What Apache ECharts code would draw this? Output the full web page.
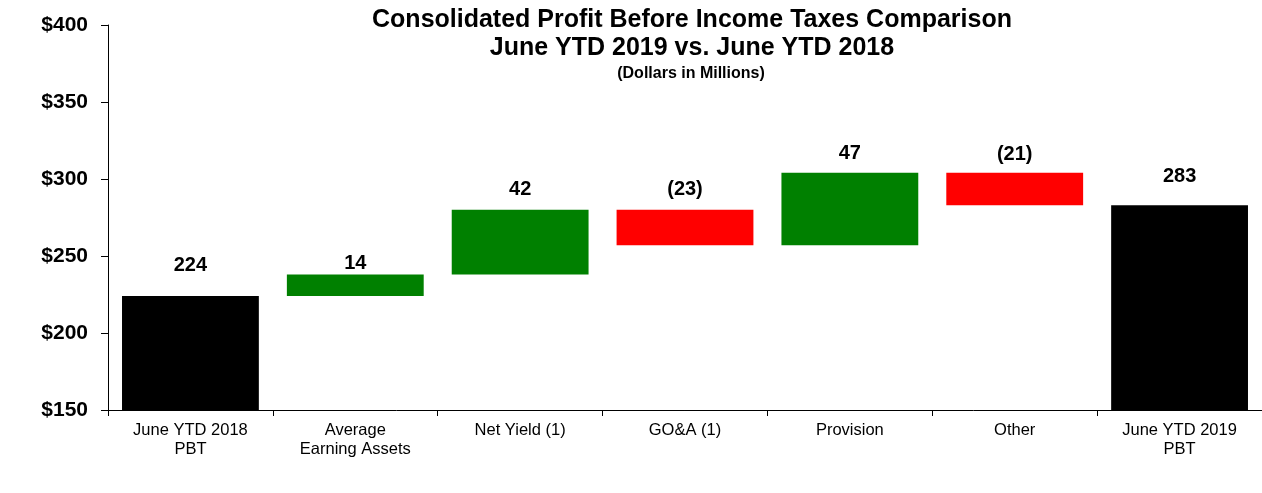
<!DOCTYPE html>
<html>
<head>
<meta charset="utf-8">
<script src="https://cdn.jsdelivr.net/npm/echarts@6/dist/echarts.min.js"></script>
<style>html,body{margin:0;padding:0;background:#fff}#c{width:1262px;height:493px}</style>
</head>
<body>
<div id="c"></div>
<script>
const categories = ["June YTD 2018\nPBT", "Average\nEarning Assets", "Net Yield (1)", "GO&A (1)", "Provision", "Other", "June YTD 2019\nPBT"];
const changes = [224, 14, 42, -23, 47, -21, 283];
const isTotal = [true, false, false, false, false, false, true];
const yTicks = { min: 150, max: 400, interval: 50 };

// styling (not data)
const labelGap = [21, 1, 10, 10, 9, 8, 19];
const colTotal = "#000000", colUp = "#008000", colDown = "#FF0000";

const base = [], vis = [];
let run = 0;
changes.forEach((v, i) => {
  if (isTotal[i]) {
    base.push(0);
    vis.push({ value: v, raw: v, itemStyle: { color: colTotal }, label: { distance: labelGap[i] } });
    run = v;
  } else {
    const next = run + v;
    base.push(Math.min(run, next));
    vis.push({ value: Math.abs(v), raw: v, itemStyle: { color: v >= 0 ? colUp : colDown }, label: { distance: labelGap[i] } });
    run = next;
  }
});

const chart = echarts.init(document.getElementById('c'));
chart.setOption({
  animation: false,
  textStyle: { fontFamily: "Liberation Sans, Arial, sans-serif" },
  title: [
    { text: "Consolidated Profit Before Income Taxes Comparison\nJune YTD 2019 vs. June YTD 2018", left: 687, top: 1, textAlign: 'center',
      textStyle: { fontFamily: "Liberation Sans, Arial", fontWeight: 'bold', fontSize: 25, lineHeight: 28, color: '#000' } },
    { text: "(Dollars in Millions)", left: 686, top: 60, textAlign: 'center',
      textStyle: { fontFamily: "Liberation Sans, Arial", fontWeight: 'bold', fontSize: 16, lineHeight: 18, color: '#000' } }
  ],
  grid: { left: 108, right: 0, top: 25, bottom: 83, containLabel: false },
  xAxis: {
    type: 'category', data: categories,
    axisLine: { lineStyle: { color: '#000', width: 1 } },
    axisTick: { show: true, length: 6, lineStyle: { color: '#000' } },
    axisLabel: { color: '#000', fontSize: 16.5, lineHeight: 19, margin: 11, interval: 0, fontFamily: "Liberation Sans, Arial" }
  },
  yAxis: {
    type: 'value', min: yTicks.min, max: yTicks.max, interval: yTicks.interval,
    axisLine: { show: true, lineStyle: { color: '#000', width: 1 } },
    axisTick: { show: true, length: 7, lineStyle: { color: '#000' } },
    splitLine: { show: false },
    axisLabel: { color: '#000', fontSize: 21, fontWeight: 'bold', margin: 20, formatter: v => '$' + v, fontFamily: "Liberation Sans, Arial" }
  },
  series: [
    { type: 'bar', stack: 'w', data: base, itemStyle: { color: 'rgba(0,0,0,0)' }, barCategoryGap: '17%', silent: true },
    { type: 'bar', stack: 'w', data: vis, barCategoryGap: '17%',
      label: { show: true, position: 'top', color: '#000', fontSize: 20, fontWeight: 'bold', fontFamily: "Liberation Sans, Arial",
        formatter: p => { const r = p.data.raw; return r < 0 ? '(' + Math.abs(r) + ')' : String(r); } } }
  ]
});
</script>
</body>
</html>
